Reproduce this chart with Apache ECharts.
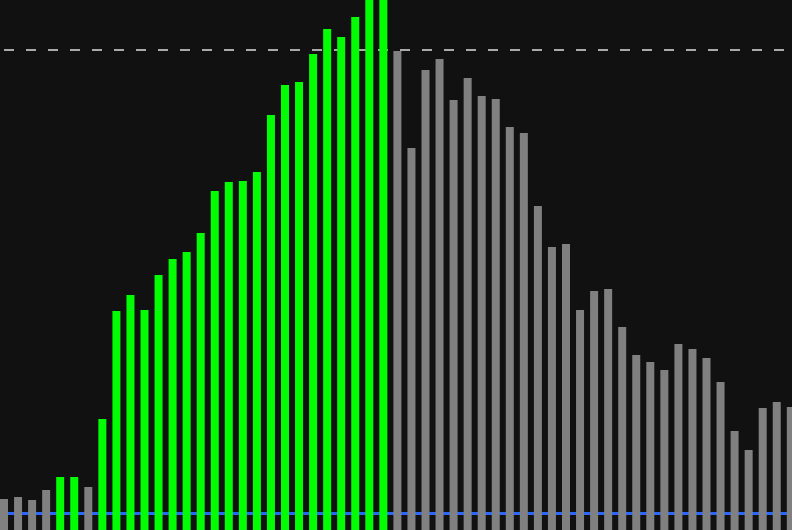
<!DOCTYPE html>
<html lang="en">
<head>
    <meta charset="UTF-8">
    <title>Volume</title>
    <script src="https://cdn.jsdelivr.net/npm/echarts@6/dist/echarts.min.js"></script>
    <style>
        html, body {margin: 0; padding: 0; background: #111111;}
        #chart {width: 792px; height: 530px;}
    </style>
</head>
<body>
<div id="chart"></div>
<script>
    // volume per bar, left to right
    var volumes = [
        15.5, 16.5, 15, 20, 26.5, 26.5, 21.5, 55.5, 109.5, 117.5,
        110, 127.5, 135.5, 139, 148.5, 169.5, 174, 174.5, 179, 207.5,
        222.5, 224, 238, 250.5, 246.5, 256.5, 272, 280, 239.5, 191,
        230, 235.5, 215, 226, 217, 215.5, 201.5, 198.5, 162, 141.5,
        143, 110, 119.5, 120.5, 101.5, 87.5, 84, 80, 93, 90.5,
        86, 74, 49.5, 40, 61, 64, 61.5
    ];
    // 1 = up bar, 0 = down bar
    var upFlags = [
        0, 0, 0, 0, 1, 1, 0, 1, 1, 1,
        1, 1, 1, 1, 1, 1, 1, 1, 1, 1,
        1, 1, 1, 1, 1, 1, 1, 1, 0, 0,
        0, 0, 0, 0, 0, 0, 0, 0, 0, 0,
        0, 0, 0, 0, 0, 0, 0, 0, 0, 0,
        0, 0, 0, 0, 0, 0, 0
    ];
    var thresholdLevel = 240;
    var baseLevel = 8.25;
    var yMax = 265;

    var categories = volumes.map(function (v, i) { return String(i + 1); });

    var barData = volumes.map(function (v, i) {
        return {
            value: v,
            itemStyle: {color: upFlags[i] ? '#00ff00' : '#808080'}
        };
    });

    var chart = echarts.init(document.getElementById('chart'));
    chart.setOption({
        backgroundColor: '#111111',
        animation: false,
        grid: {left: 4, right: 1.2, top: 0, bottom: 0},
        xAxis: {
            type: 'category',
            data: categories,
            boundaryGap: false,
            axisLine: {show: false},
            axisTick: {show: false},
            axisLabel: {show: false},
            splitLine: {show: false}
        },
        yAxis: {
            type: 'value',
            min: 0,
            max: yMax,
            axisLine: {show: false},
            axisTick: {show: false},
            axisLabel: {show: false},
            splitLine: {show: false}
        },
        series: [
            {
                // blue base line, under the bars
                type: 'line',
                data: [],
                zlevel: 0,
                silent: true,
                markLine: {
                    silent: true,
                    symbol: 'none',
                    label: {show: false},
                    lineStyle: {color: '#2a66ff', width: 3, type: 'solid', opacity: 1},
                    data: [{yAxis: baseLevel}]
                }
            },
            {
                type: 'bar',
                data: barData,
                barWidth: 8,
                clip: false,
                zlevel: 1,
                silent: true
            },
            {
                // dashed threshold, over the bars
                type: 'line',
                data: [],
                zlevel: 2,
                silent: true,
                markLine: {
                    silent: true,
                    symbol: 'none',
                    label: {show: false},
                    lineStyle: {color: '#aaaaaa', width: 2, type: [10, 12], opacity: 1},
                    data: [{yAxis: thresholdLevel}]
                }
            }
        ]
    });
</script>
</body>
</html>
